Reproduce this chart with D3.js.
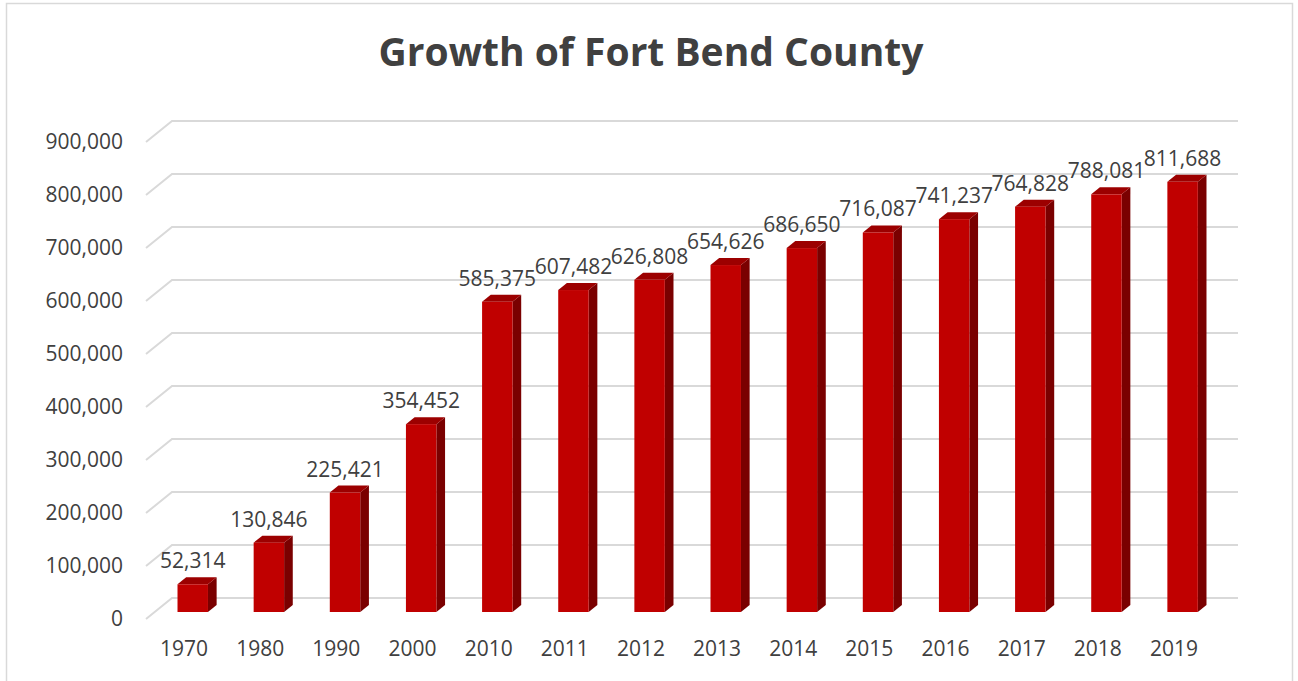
<!DOCTYPE html>
<html>
<head>
<meta charset="utf-8">
<script src="https://cdn.jsdelivr.net/npm/d3@7"></script>
<style>
  html, body { margin: 0; padding: 0; background: #fff; }
  svg { display: block; }
</style>
</head>
<body>
<svg id="chart" width="1298" height="681"></svg>
<script>
// Population of Fort Bend County by year
const years = ["1970", "1980", "1990", "2000", "2010", "2011", "2012", "2013", "2014", "2015", "2016", "2017", "2018", "2019"];
const population = [52314, 130846, 225421, 354452, 585375, 607482, 626808, 654626, 686650, 716087, 741237, 764828, 788081, 811688];
const yTicks = [0, 100000, 200000, 300000, 400000, 500000, 600000, 700000, 800000, 900000];
const titleText = "Growth of Fort Bend County";

const svg = d3.select("#chart");
const FONT = "'Open Sans', 'Liberation Sans', sans-serif";
const TEXT = "#404040";

// Frame around the chart area
svg.append("rect")
  .attr("x", 6.5).attr("y", 3.5)
  .attr("width", 1286).attr("height", 690)
  .attr("fill", "#fff").attr("stroke", "#d9d9d9").attr("stroke-width", 1.5);

// Front plane of the 3D plot and the depth vector toward the back wall
const left = 146, right = 1212;
const depth = { dx: 26, dy: -21 };
const proj = (px, py, t) => [px + t * depth.dx, py + t * depth.dy];

const x = d3.scaleBand().domain(years).range([left, right])
  .paddingInner(0.6).paddingOuter(0.3);
const y = d3.scaleLinear().domain([0, 900000]).range([619, 142]);

// Gridlines: short slanted floor segment, then along the back wall
const grid = svg.append("g");
yTicks.forEach(v => {
  const yf = y(v);
  const b = proj(left, yf, 1);
  grid.append("path")
    .attr("d", `M${left},${yf}L${b[0]},${b[1]}L${right + depth.dx},${b[1]}`)
    .attr("fill", "none").attr("stroke", "#d9d9d9").attr("stroke-width", 2);
});

// Y axis labels
const yAxis = d3.axisLeft(y).tickValues(yTicks).tickFormat(d3.format(",")).tickSize(0).tickPadding(23);
const gy = svg.append("g").attr("transform", `translate(${left},0)`).call(yAxis);
gy.select(".domain").remove();
gy.selectAll("text").attr("fill", TEXT).style("font-family", FONT).style("font-size", "21px");

// X axis labels
const xAxis = d3.axisBottom(x).tickSize(0).tickPadding(22);
const gx = svg.append("g").attr("transform", `translate(0,${y(0)})`).call(xAxis);
gx.select(".domain").remove();
gx.selectAll("text").attr("fill", TEXT).style("font-family", FONT).style("font-size", "21px");

// 3D bars: front face at 1/3 depth, back at 2/3 depth
const tF = 1 / 3, tB = 2 / 3;
const bars = svg.append("g");
years.forEach((yr, i) => {
  const v = population[i];
  const x0 = x(yr), x1 = x(yr) + x.bandwidth();
  const [fx0, fy0] = proj(x0, y(0), tF);
  const [fx1, fyTop] = proj(x1, y(v), tF);
  const [bx1, byTop] = proj(x1, y(v), tB);
  const [bx0] = proj(x0, y(v), tB);
  const [, by0] = proj(x1, y(0), tB);
  const g = bars.append("g");
  // side face
  g.append("path")
    .attr("d", `M${fx1},${fy0}L${fx1},${fyTop}L${bx1},${byTop}L${bx1},${by0}Z`)
    .attr("fill", "#7a0000");
  // top face
  g.append("path")
    .attr("d", `M${fx0},${fyTop}L${fx1},${fyTop}L${bx1},${byTop}L${bx0},${byTop}Z`)
    .attr("fill", "#9c0000");
  // front face
  g.append("rect")
    .attr("x", fx0).attr("y", fyTop)
    .attr("width", fx1 - fx0).attr("height", fy0 - fyTop)
    .attr("fill", "#c00000");
});

// Value labels above each bar
const labels = svg.append("g");
years.forEach((yr, i) => {
  const v = population[i];
  const [cx, cy] = proj(x(yr) + x.bandwidth() / 2, y(v), tF);
  labels.append("text")
    .attr("x", cx).attr("y", cy - 16)
    .attr("text-anchor", "middle")
    .attr("fill", TEXT)
    .style("font-family", FONT).style("font-size", "21px")
    .text(d3.format(",")(v));
});

// Title
svg.append("text")
  .attr("x", 651).attr("y", 66)
  .attr("text-anchor", "middle")
  .attr("fill", TEXT)
  .style("font-family", FONT).style("font-size", "39px").style("font-weight", "bold")
  .text(titleText);
</script>
</body>
</html>
